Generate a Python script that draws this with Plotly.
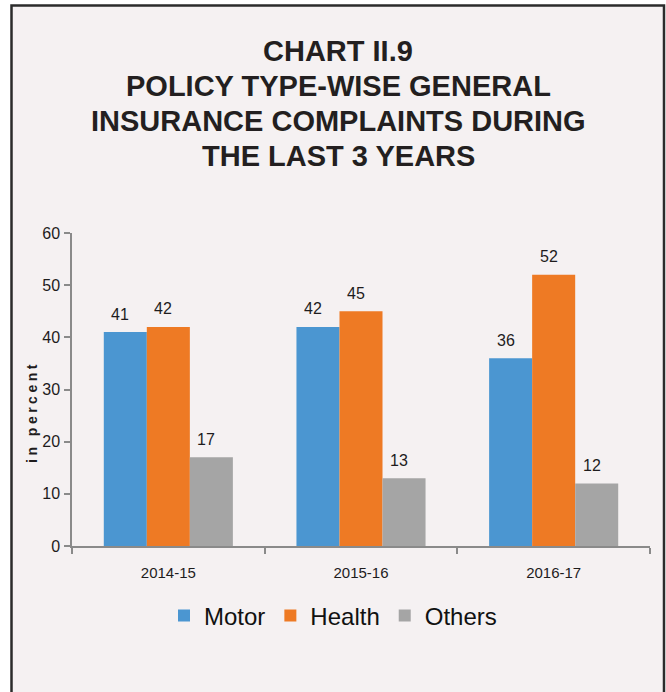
import plotly.graph_objects as go

# Complaint shares by policy type (per cent)
years = ["2014-15", "2015-16", "2016-17"]
motor = [41, 42, 36]
health = [42, 45, 52]
others = [17, 13, 12]
series_names = ["Motor", "Health", "Others"]
y_ticks = [0, 10, 20, 30, 40, 50, 60]
title_lines = [
    "CHART II.9",
    "POLICY TYPE-WISE GENERAL",
    "INSURANCE COMPLAINTS DURING",
    "THE LAST 3 YEARS",
]

colors = ["#4b96d1", "#ee7a24", "#a5a5a5"]
panel_bg = "#f5f1f2"
text_color = "#1e1c1d"
axis_color = "#8a8a8a"
FONT = "Arial, Liberation Sans, sans-serif"

W, H = 666, 692
L, R, T, B = 72, 16, 233, 146
plot_w = W - L - R
plot_h = H - T - B
BARGAP = 0.33


def px_x(px):
    return (px - L) / plot_w


def px_y(py):
    return (H - B - py) / plot_h


fig = go.Figure()
for name, vals, col in zip(series_names, [motor, health, others], colors):
    fig.add_trace(go.Bar(
        x=years, y=vals, name=name,
        marker=dict(color=col, line=dict(width=0)),
        hoverinfo="x+y+name",
    ))

# value labels above each bar
cat_px = plot_w / len(years)
bar_px = cat_px * (1 - BARGAP) / len(series_names)
annotations = []
for j, vals in enumerate([motor, health, others]):
    for yr, v in zip(years, vals):
        annotations.append(dict(
            x=yr, y=v, xref="x", yref="y",
            text=f"{v:.0f}", showarrow=False,
            xshift=(j - 1) * bar_px - 5, yshift=18,
            yanchor="middle", xanchor="center",
            font=dict(family=FONT, size=16, color=text_color),
        ))

# chart heading
baselines = [61, 96, 131, 166]
for line, base in zip(title_lines, baselines):
    annotations.append(dict(
        x=px_x(338), y=px_y(base - 10), xref="paper", yref="paper",
        text=f"<b>{line}</b>", showarrow=False,
        xanchor="center", yanchor="middle",
        font=dict(family=FONT, size=29, color="#231f20"),
    ))

# y-axis caption (letter-spaced)
annotations.append(dict(
    x=px_x(31.5), y=px_y(413.5), xref="paper", yref="paper",
    text="<b>" + "\u2005".join("in percent") + "</b>", showarrow=False,
    textangle=-90, xanchor="center", yanchor="middle",
    font=dict(family=FONT, size=14, color=text_color),
))

# framed panel
shapes = [dict(
    type="rect", xref="paper", yref="paper", layer="below",
    x0=px_x(11.5), x1=px_x(664), y0=px_y(720), y1=px_y(5.5),
    fillcolor=panel_bg, line=dict(color="#2b2b2b", width=2.5),
)]

fig.update_layout(
    width=W, height=H,
    margin=dict(l=L, r=R, t=T, b=B, pad=0),
    paper_bgcolor="white",
    plot_bgcolor="rgba(0,0,0,0)",
    barmode="group", bargap=BARGAP, bargroupgap=0,
    showlegend=True,
    legend=dict(
        orientation="h", x=px_x(333), y=px_y(616),
        xanchor="center", yanchor="middle",
        font=dict(family=FONT, size=24, color="#111111"),
        bgcolor="rgba(0,0,0,0)", itemclick=False, itemdoubleclick=False,
        traceorder="normal",
    ),
    annotations=annotations,
    shapes=shapes,
    xaxis=dict(
        type="category", showgrid=False, zeroline=False,
        showline=True, linecolor=axis_color, linewidth=1.5,
        ticks="outside", tickson="boundaries", ticklen=6, tickcolor=axis_color,
        tickwidth=1.5, ticklabelstandoff=12,
        tickfont=dict(family=FONT, size=15, color=text_color),
    ),
    yaxis=dict(
        range=[0, 60], tickvals=y_ticks, showgrid=False, zeroline=False,
        showline=True, linecolor=axis_color, linewidth=1.5,
        ticks="outside", ticklen=6, tickcolor=axis_color, tickwidth=1.5,
        ticklabelstandoff=1,
        tickfont=dict(family=FONT, size=16, color=text_color),
    ),
)

fig.write_html("out.html")
